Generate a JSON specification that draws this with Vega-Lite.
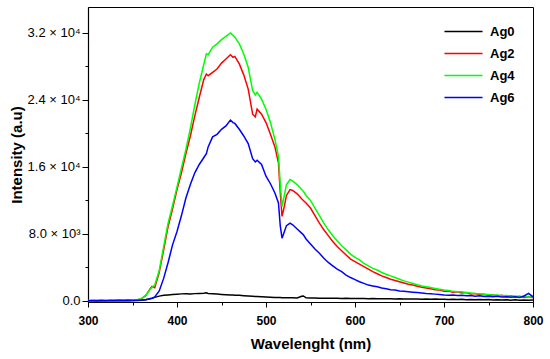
{
  "$schema": "https://vega.github.io/schema/vega-lite/v6.json",
  "width": 445,
  "height": 295,
  "autosize": {"type": "none"},
  "padding": {"left": 88, "top": 7, "right": 17, "bottom": 57},
  "background": "white",
  "config": {
    "view": {"stroke": "#000", "strokeWidth": 1},
    "font": "Liberation Sans",
    "axis": {"domainColor": "#000", "tickColor": "#000", "labelColor": "#000", "titleColor": "#000", "grid": false, "domainWidth": 1.2, "tickWidth": 1, "labelFlush": false}
  },
  "data": {"values": [
    {"w":300,"Ag0":20,"Ag2":40,"Ag4":60,"Ag6":30},
    {"w":305,"Ag0":30,"Ag2":70,"Ag4":50,"Ag6":50},
    {"w":310,"Ag0":10,"Ag2":50,"Ag4":90,"Ag6":20},
    {"w":315,"Ag0":40,"Ag2":80,"Ag4":60,"Ag6":60},
    {"w":320,"Ag0":20,"Ag2":60,"Ag4":100,"Ag6":40},
    {"w":325,"Ag0":30,"Ag2":90,"Ag4":70,"Ag6":70},
    {"w":330,"Ag0":40,"Ag2":70,"Ag4":110,"Ag6":50},
    {"w":335,"Ag0":20,"Ag2":100,"Ag4":80,"Ag6":80},
    {"w":340,"Ag0":50,"Ag2":80,"Ag4":120,"Ag6":60},
    {"w":345,"Ag0":30,"Ag2":110,"Ag4":100,"Ag6":90},
    {"w":350,"Ag0":60,"Ag2":90,"Ag4":130,"Ag6":70},
    {"w":355,"Ag0":50,"Ag2":130,"Ag4":150,"Ag6":100},
    {"w":360,"Ag0":80,"Ag2":250,"Ag4":280,"Ag6":110},
    {"w":365,"Ag0":160,"Ag2":650,"Ag4":700,"Ag6":150},
    {"w":370,"Ag0":300,"Ag2":1500,"Ag4":1400,"Ag6":260},
    {"w":372,"Ag0":340,"Ag2":1750,"Ag4":1650,"Ag6":330},
    {"w":375,"Ag0":430,"Ag2":1600,"Ag4":1900,"Ag6":480},
    {"w":380,"Ag0":580,"Ag2":3400,"Ag4":3600,"Ag6":1200},
    {"w":385,"Ag0":680,"Ag2":6100,"Ag4":6500,"Ag6":2700},
    {"w":390,"Ag0":730,"Ag2":8900,"Ag4":9300,"Ag6":4600},
    {"w":395,"Ag0":780,"Ag2":11000,"Ag4":11400,"Ag6":6700},
    {"w":400,"Ag0":810,"Ag2":13300,"Ag4":13600,"Ag6":8300},
    {"w":405,"Ag0":850,"Ag2":15300,"Ag4":15900,"Ag6":10200},
    {"w":410,"Ag0":860,"Ag2":17600,"Ag4":18100,"Ag6":12300},
    {"w":415,"Ag0":850,"Ag2":19700,"Ag4":20600,"Ag6":13900},
    {"w":420,"Ag0":880,"Ag2":22100,"Ag4":23400,"Ag6":15300},
    {"w":425,"Ag0":900,"Ag2":24300,"Ag4":26000,"Ag6":16300},
    {"w":430,"Ag0":930,"Ag2":26400,"Ag4":28200,"Ag6":17100},
    {"w":433,"Ag0":980,"Ag2":27100,"Ag4":29500,"Ag6":17600},
    {"w":435,"Ag0":900,"Ag2":26900,"Ag4":29400,"Ag6":18400},
    {"w":440,"Ag0":860,"Ag2":27300,"Ag4":30300,"Ag6":19600},
    {"w":445,"Ag0":830,"Ag2":27700,"Ag4":30700,"Ag6":19900},
    {"w":450,"Ag0":790,"Ag2":28400,"Ag4":31200,"Ag6":20500},
    {"w":455,"Ag0":760,"Ag2":28900,"Ag4":31600,"Ag6":20900},
    {"w":460,"Ag0":730,"Ag2":29400,"Ag4":32000,"Ag6":21600},
    {"w":463,"Ag0":720,"Ag2":29100,"Ag4":31700,"Ag6":21300},
    {"w":465,"Ag0":700,"Ag2":29200,"Ag4":31500,"Ag6":21200},
    {"w":470,"Ag0":680,"Ag2":28300,"Ag4":30700,"Ag6":20500},
    {"w":475,"Ag0":640,"Ag2":27000,"Ag4":29500,"Ag6":19700},
    {"w":480,"Ag0":600,"Ag2":25300,"Ag4":27900,"Ag6":18800},
    {"w":485,"Ag0":560,"Ag2":22300,"Ag4":25100,"Ag6":17000},
    {"w":488,"Ag0":540,"Ag2":22000,"Ag4":24600,"Ag6":16600},
    {"w":490,"Ag0":530,"Ag2":22900,"Ag4":24900,"Ag6":16800},
    {"w":495,"Ag0":500,"Ag2":22300,"Ag4":24100,"Ag6":16300},
    {"w":500,"Ag0":470,"Ag2":21300,"Ag4":22900,"Ag6":14900},
    {"w":505,"Ag0":450,"Ag2":19900,"Ag4":21300,"Ag6":14000},
    {"w":510,"Ag0":430,"Ag2":18400,"Ag4":19300,"Ag6":12900},
    {"w":514,"Ag0":420,"Ag2":16500,"Ag4":17300,"Ag6":11700},
    {"w":516,"Ag0":410,"Ag2":13000,"Ag4":14000,"Ag6":9000},
    {"w":518,"Ag0":400,"Ag2":10100,"Ag4":11300,"Ag6":7500},
    {"w":520,"Ag0":400,"Ag2":11000,"Ag4":12300,"Ag6":8100},
    {"w":523,"Ag0":390,"Ag2":12600,"Ag4":13900,"Ag6":9000},
    {"w":527,"Ag0":390,"Ag2":13300,"Ag4":14500,"Ag6":9300},
    {"w":530,"Ag0":380,"Ag2":13200,"Ag4":14300,"Ag6":9100},
    {"w":535,"Ag0":370,"Ag2":12800,"Ag4":13900,"Ag6":8600},
    {"w":540,"Ag0":560,"Ag2":12200,"Ag4":13300,"Ag6":8100},
    {"w":542,"Ag0":600,"Ag2":12000,"Ag4":13100,"Ag6":7900},
    {"w":545,"Ag0":380,"Ag2":11700,"Ag4":12600,"Ag6":7400},
    {"w":550,"Ag0":360,"Ag2":11100,"Ag4":12000,"Ag6":6800},
    {"w":555,"Ag0":350,"Ag2":10200,"Ag4":11100,"Ag6":6200},
    {"w":560,"Ag0":340,"Ag2":9300,"Ag4":10200,"Ag6":5700},
    {"w":565,"Ag0":340,"Ag2":8500,"Ag4":9300,"Ag6":5100},
    {"w":570,"Ag0":330,"Ag2":7800,"Ag4":8500,"Ag6":4600},
    {"w":575,"Ag0":320,"Ag2":7100,"Ag4":7800,"Ag6":4200},
    {"w":580,"Ag0":330,"Ag2":6500,"Ag4":7200,"Ag6":3800},
    {"w":585,"Ag0":310,"Ag2":6000,"Ag4":6600,"Ag6":3500},
    {"w":590,"Ag0":320,"Ag2":5500,"Ag4":6100,"Ag6":3100},
    {"w":595,"Ag0":300,"Ag2":5000,"Ag4":5600,"Ag6":2800},
    {"w":600,"Ag0":310,"Ag2":4700,"Ag4":5200,"Ag6":2550},
    {"w":605,"Ag0":290,"Ag2":4400,"Ag4":4900,"Ag6":2300},
    {"w":610,"Ag0":300,"Ag2":4100,"Ag4":4500,"Ag6":2100},
    {"w":615,"Ag0":280,"Ag2":3800,"Ag4":4200,"Ag6":1900},
    {"w":620,"Ag0":290,"Ag2":3500,"Ag4":3900,"Ag6":1800},
    {"w":625,"Ag0":270,"Ag2":3250,"Ag4":3700,"Ag6":1700},
    {"w":630,"Ag0":280,"Ag2":3000,"Ag4":3400,"Ag6":1550},
    {"w":635,"Ag0":260,"Ag2":2800,"Ag4":3200,"Ag6":1450},
    {"w":640,"Ag0":270,"Ag2":2600,"Ag4":3000,"Ag6":1350},
    {"w":645,"Ag0":250,"Ag2":2450,"Ag4":2800,"Ag6":1300},
    {"w":650,"Ag0":260,"Ag2":2300,"Ag4":2600,"Ag6":1200},
    {"w":655,"Ag0":240,"Ag2":2150,"Ag4":2400,"Ag6":1150},
    {"w":660,"Ag0":250,"Ag2":2000,"Ag4":2250,"Ag6":1100},
    {"w":665,"Ag0":230,"Ag2":1900,"Ag4":2100,"Ag6":1050},
    {"w":670,"Ag0":240,"Ag2":1750,"Ag4":1950,"Ag6":1000},
    {"w":675,"Ag0":220,"Ag2":1650,"Ag4":1800,"Ag6":950},
    {"w":680,"Ag0":240,"Ag2":1550,"Ag4":1700,"Ag6":900},
    {"w":685,"Ag0":210,"Ag2":1450,"Ag4":1600,"Ag6":870},
    {"w":690,"Ag0":230,"Ag2":1350,"Ag4":1500,"Ag6":820},
    {"w":695,"Ag0":200,"Ag2":1300,"Ag4":1400,"Ag6":780},
    {"w":700,"Ag0":220,"Ag2":1150,"Ag4":1300,"Ag6":730},
    {"w":705,"Ag0":190,"Ag2":1200,"Ag4":1250,"Ag6":700},
    {"w":710,"Ag0":210,"Ag2":1050,"Ag4":1150,"Ag6":720},
    {"w":715,"Ag0":170,"Ag2":1100,"Ag4":1100,"Ag6":650},
    {"w":720,"Ag0":200,"Ag2":950,"Ag4":1100,"Ag6":690},
    {"w":725,"Ag0":160,"Ag2":1000,"Ag4":1000,"Ag6":620},
    {"w":730,"Ag0":190,"Ag2":850,"Ag4":950,"Ag6":660},
    {"w":735,"Ag0":150,"Ag2":900,"Ag4":900,"Ag6":580},
    {"w":740,"Ag0":180,"Ag2":750,"Ag4":870,"Ag6":620},
    {"w":745,"Ag0":140,"Ag2":800,"Ag4":800,"Ag6":540},
    {"w":750,"Ag0":170,"Ag2":700,"Ag4":780,"Ag6":580},
    {"w":755,"Ag0":130,"Ag2":720,"Ag4":700,"Ag6":500},
    {"w":760,"Ag0":160,"Ag2":600,"Ag4":720,"Ag6":560},
    {"w":765,"Ag0":110,"Ag2":680,"Ag4":630,"Ag6":480},
    {"w":770,"Ag0":150,"Ag2":550,"Ag4":650,"Ag6":520},
    {"w":775,"Ag0":100,"Ag2":620,"Ag4":580,"Ag6":450},
    {"w":780,"Ag0":140,"Ag2":480,"Ag4":600,"Ag6":520},
    {"w":785,"Ag0":90,"Ag2":560,"Ag4":520,"Ag6":420},
    {"w":790,"Ag0":130,"Ag2":420,"Ag4":560,"Ag6":600},
    {"w":795,"Ag0":80,"Ag2":520,"Ag4":480,"Ag6":900},
    {"w":800,"Ag0":120,"Ag2":400,"Ag4":520,"Ag6":500}
  ]},
  "transform": [{"fold": ["Ag0", "Ag2", "Ag4", "Ag6"], "as": ["series", "val"]}],
  "layer": [
    {
      "mark": {"type": "line", "strokeWidth": 1.5, "clip": true},
      "encoding": {
        "x": {
          "field": "w", "type": "quantitative",
          "scale": {"domain": [300, 800], "nice": false, "zero": false},
          "axis": {
            "values": [300, 400, 500, 600, 700, 800], "format": "d",
            "labelFontWeight": "bold", "labelFontSize": 12, "tickSize": 5, "labelPadding": 8,
            "title": "Wavelenght (nm)", "titleFontSize": 15, "titleFontWeight": "bold",
            "titleX": 222.5, "titleY": 41, "titleBaseline": "middle", "titleAlign": "center"
          }
        },
        "y": {
          "field": "val", "type": "quantitative",
          "scale": {"domain": [-120, 35100], "nice": false, "zero": false},
          "axis": {
            "values": [0, 8000, 16000, 24000, 32000],
            "labelExpr": "datum.value == 0 ? '0.0' : datum.value == 8000 ? '8.0 × 10³' : datum.value == 16000 ? '1.6 × 10⁴' : datum.value == 24000 ? '2.4 × 10⁴' : '3.2 × 10⁴'",
            "labelFontSize": 13, "tickSize": 6, "labelPadding": 2,
            "title": "Intensity (a.u)", "titleFontSize": 15, "titleFontWeight": "bold",
            "titleX": -72, "titleY": 147.5, "titleAngle": -90, "titleBaseline": "middle", "titleAlign": "center"
          }
        },
        "color": {
          "field": "series", "type": "nominal",
          "scale": {"domain": ["Ag0", "Ag2", "Ag4", "Ag6"], "range": ["#000000", "#ff0000", "#00ff00", "#0000ff"]},
          "legend": {
            "orient": "none", "legendX": 369, "legendY": 18, "title": null,
            "symbolType": "M-5,0H5", "symbolSize": 58, "symbolStrokeWidth": 1.5,
            "labelFontSize": 13, "labelFontWeight": "bold", "labelColor": "#000",
            "rowPadding": 8, "labelOffset": 20, "padding": 0
          }
        }
      }
    },
    {
      "mark": {"type": "point", "opacity": 0},
      "encoding": {
        "x": {"field": "w", "type": "quantitative",
          "axis": {"orient": "bottom", "values": [350, 450, 550, 650, 750], "labels": false, "tickSize": 3, "domain": false, "title": null}},
        "y": {"field": "val", "type": "quantitative",
          "axis": {"orient": "left", "values": [4000, 12000, 20000, 28000], "labels": false, "tickSize": 3, "domain": false, "title": null}}
      }
    }
  ],
  "resolve": {"axis": {"x": "independent", "y": "independent"}}
}
